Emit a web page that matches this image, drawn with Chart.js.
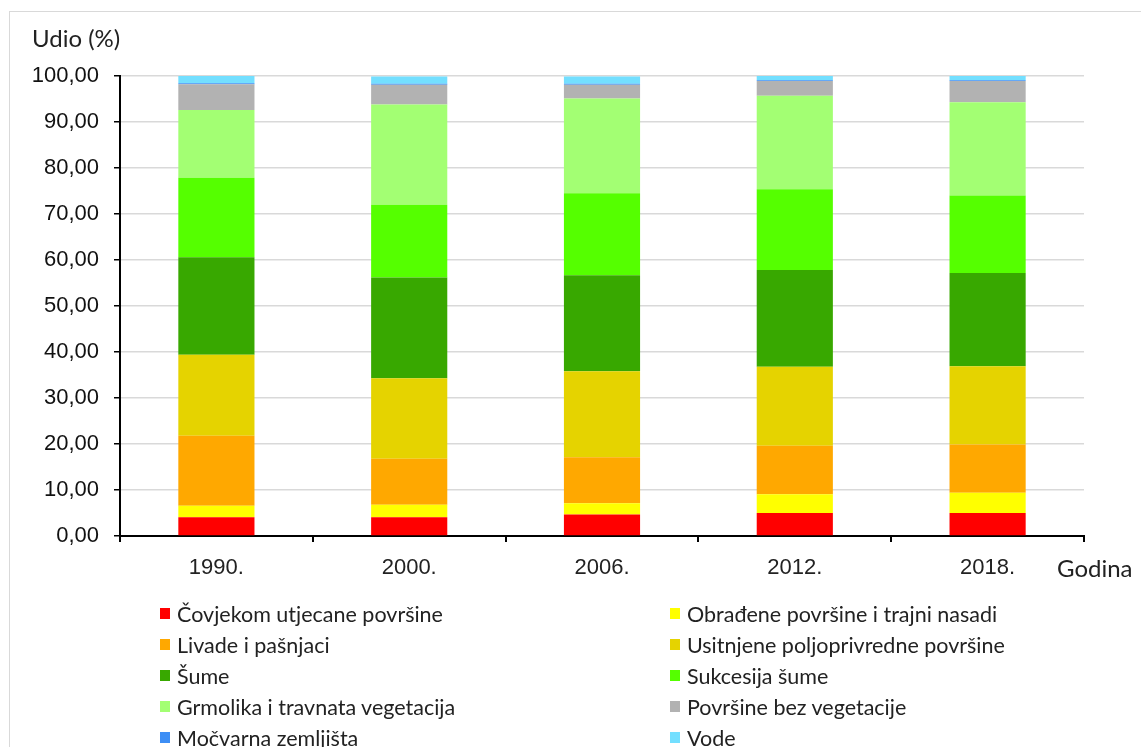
<!DOCTYPE html>
<html>
<head>
<meta charset="utf-8">
<script src="https://cdn.jsdelivr.net/npm/chart.js@4.4.1/dist/chart.umd.min.js"></script>
<style>
  html, body { margin: 0; padding: 0; background: #fff; }
  body { width: 1141px; height: 747px; position: relative; overflow: hidden; font-family: "Liberation Sans", Arial, sans-serif; }
  #frame { position: absolute; left: 9px; top: 11px; width: 1300px; height: 800px; border: 1px solid #d9d9d9; box-sizing: border-box; }
  #wrap { position: absolute; left: 0; top: 0; width: 1141px; height: 600px; }
  .axis-title { position: absolute; font-family: Lato, "Open Sans", sans-serif; font-size: 24px; color: #222; white-space: nowrap; line-height: 1; }
  #ytitle { left: 32px; top: 26px; }
  #xtitle { left: 1057px; top: 556px; }
  #legend { position: absolute; left: 160px; top: 598px; display: grid; grid-template-columns: 510px 420px; row-gap: 0; }
  .item { height: 31px; display: flex; align-items: center; font-family: Lato, "Open Sans", sans-serif; font-size: 21.5px; color: #222; white-space: nowrap; }
  .box { width: 10px; height: 11px; margin-right: 7px; flex: none; }
</style>
</head>
<body>
<div id="frame"></div>
<div id="wrap"><canvas id="c"></canvas></div>
<div id="ytitle" class="axis-title">Udio (%)</div>
<div id="xtitle" class="axis-title">Godina</div>
<div id="legend"></div>
<script>
const years = ["1990.", "2000.", "2006.", "2012.", "2018."];

const covjekom   = [4.1, 4.1, 4.7, 5.0, 5.0];
const obradjene  = [2.5, 2.7, 2.4, 4.1, 4.4];
const livade     = [15.2, 10.0, 10.0, 10.5, 10.5];
const usitnjene  = [17.6, 17.5, 18.7, 17.2, 17.0];
const sume       = [21.2, 21.9, 20.9, 21.0, 20.3];
const sukcesija  = [17.3, 15.8, 17.8, 17.6, 16.8];
const grmolika   = [14.7, 21.8, 20.6, 20.3, 20.3];
const bezVeget   = [5.6, 4.3, 3.0, 3.2, 4.6];
const mocvarna   = [0.2, 0.2, 0.2, 0.2, 0.2];
const vode       = [1.6, 1.6, 1.6, 0.9, 0.9];

const yTicks = [0, 10, 20, 30, 40, 50, 60, 70, 80, 90, 100];

const series = [
  { label: "Čovjekom utjecane površine",       data: covjekom,  color: "#ff0000" },
  { label: "Obrađene površine i trajni nasadi", data: obradjene, color: "#ffff00" },
  { label: "Livade i pašnjaci",                 data: livade,    color: "#ffa800" },
  { label: "Usitnjene poljoprivredne površine", data: usitnjene, color: "#e5d300" },
  { label: "Šume",                              data: sume,      color: "#38a800" },
  { label: "Sukcesija šume",                    data: sukcesija, color: "#55ff00" },
  { label: "Grmolika i travnata vegetacija",    data: grmolika,  color: "#a3ff73" },
  { label: "Površine bez vegetacije",           data: bezVeget,  color: "#b2b2b2" },
  { label: "Močvarna zemljišta",                data: mocvarna,  color: "#3d8ef5" },
  { label: "Vode",                              data: vode,      color: "#73dfff" },
];

// html legend, two columns, row by row
const leg = document.getElementById("legend");
series.forEach(s => {
  leg.innerHTML += `<div class="item"><span class="box" style="background:${s.color}"></span>${s.label}</div>`;
});

const tickFont = { family: "Liberation Sans", size: 22 };

new Chart(document.getElementById("c"), {
  type: "bar",
  data: {
    labels: years,
    datasets: series.map(s => ({
      label: s.label,
      data: s.data,
      backgroundColor: s.color,
      borderWidth: 0,
      barPercentage: 0.395,
      categoryPercentage: 1,
    })),
  },
  options: {
    responsive: true,
    maintainAspectRatio: false,
    animation: false,
    layout: { padding: { top: 76, right: 57, left: 0, bottom: 0 } },
    plugins: { legend: { display: false }, tooltip: { enabled: false } },
    scales: {
      x: {
        stacked: true,
        grid: { drawOnChartArea: false, drawTicks: true, tickLength: 6, tickColor: "#000", offset: true, lineWidth: 2 },
        border: { color: "#000", width: 2 },
        ticks: { color: "#222", font: tickFont, padding: 13 },
        afterFit: (s) => { s.height = 64; },
      },
      y: {
        stacked: true,
        min: 0,
        max: 100,
        afterBuildTicks: (s) => { s.ticks = yTicks.map(v => ({ value: v })); },
        grid: { color: "#d9d9d9", lineWidth: 1.5, tickColor: "#000", tickLength: 6 },
        border: { color: "#000", width: 2 },
        ticks: {
          color: "#111",
          font: tickFont,
          padding: 15,
          callback: (v) => v.toFixed(2).replace(".", ","),
        },
        afterFit: (s) => { s.width = 120; },
      },
    },
  },
});
</script>
</body>
</html>
